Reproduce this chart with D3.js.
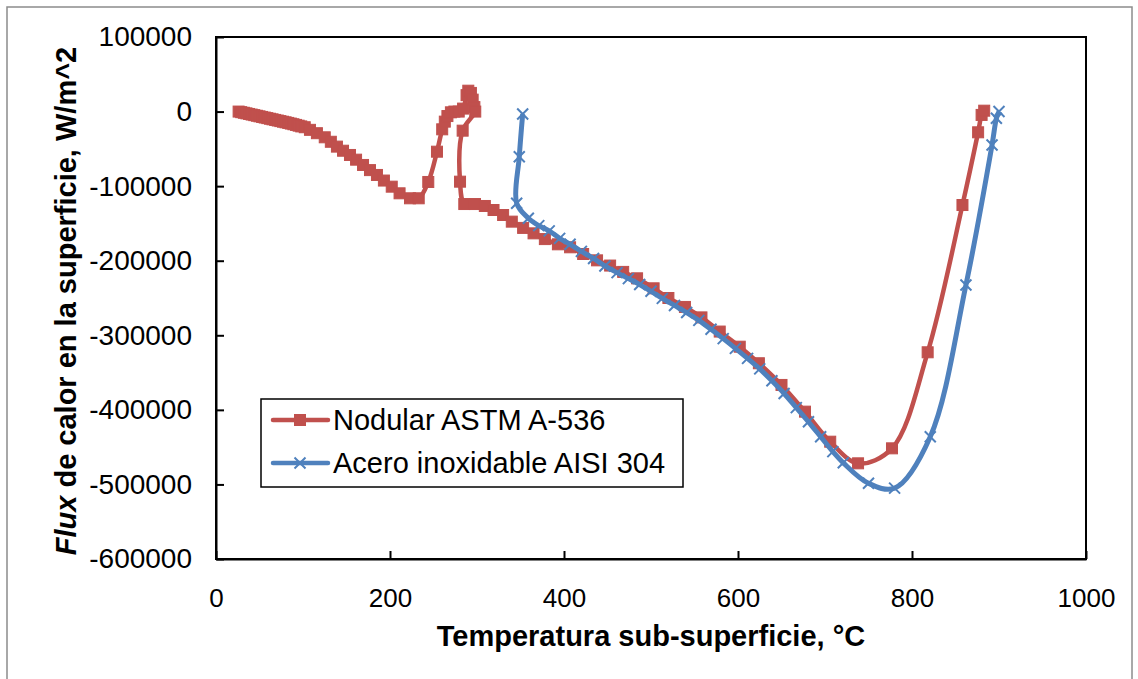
<!DOCTYPE html>
<html>
  <head>
    <title>Flux de calor</title>
    <script src="https://unpkg.com/d3@7/dist/d3.min.js"></script>
    <style>
      body { margin: 0; background: #fff; }
      text { font-family: "Liberation Sans", Arial, sans-serif; }
    </style>
  </head>
  <body>
    <svg width="1138" height="679"></svg>

    <script>
      // Nodular ASTM A-536 (temperatura, flux)
      const nodularT = [26,29,32,35,38,41,44,47,50,53,56,59,62,65,68,71,74,77,80,83,86,89,92,95,98,
        102,108,116,125,132,139,146,154,161,169,177,185,193,202,211,223,233,244,254,260,263,266,270,274,279,
        284,288,290,293,295,297,298,283.5,280.5,285.4,297.7,309,319,330,340,353,365,378,393,407,422,438,453,
        468,484,503,520,539,558,579,602,624,650,677,706,738,777,818,858,876,880,883];
      const nodularF = [0,-800,-1600,-2400,-3200,-4000,-4800,-5600,-6400,-7200,-8000,-8800,-9600,-10400,-11200,
        -12000,-12800,-13600,-14400,-15200,-16100,-17000,-17900,-18900,-19900,
        -21000,-24500,-29000,-34500,-40500,-47000,-52500,-58200,-64500,-71600,-78500,-85000,-92500,-100700,
        -109600,-116300,-116300,-94400,-53800,-23800,-13500,-6000,-1000,0,0,
        4000,22000,28000,25000,16000,6000,0,-25600,-94000,-124000,-124000,-126600,-132000,-138700,-147600,
        -156000,-163300,-171000,-178000,-182000,-191000,-199500,-206500,
        -215000,-223600,-237000,-250000,-262000,-276000,-295000,-315300,-337500,-366600,-402400,-442700,
        -471700,-451600,-322800,-125300,-27800,-4500,1200];

      // Acero inoxidable AISI 304
      const aceroT = [352.5,348.6,345.6,359,371,383,395,407,420,434,447,461,474,487,500,513,527,541,555,569,
        583,597,611,625,639,653,667,681,695,709,721,750,780,821,862,892,897,900];
      const aceroF = [-3200,-60500,-123000,-143000,-153000,-160000,-170000,-178000,-187500,-197000,-207000,
        -216000,-224000,-232000,-241000,-250500,-260000,-269500,-280000,-292000,-304500,-317500,-331000,
        -345000,-361000,-378000,-397000,-416000,-436000,-456000,-471000,-498500,-505000,-436000,-232500,
        -44800,-9000,0];

      const xTicks = [0, 200, 400, 600, 800, 1000];
      const yTicks = [100000, 0, -100000, -200000, -300000, -400000, -500000, -600000];

      const series = [
        { name: "Nodular ASTM A-536", color: "#C0504D", marker: "square",
          pts: nodularT.map((t, i) => [t, nodularF[i]]) },
        { name: "Acero inoxidable AISI 304", color: "#4F81BD", marker: "x",
          pts: aceroT.map((t, i) => [t, aceroF[i]]) }
      ];

      const svg = d3.select("svg");
      const plot = { left: 216, top: 37, right: 1086, bottom: 559 };

      // outer chart frame
      svg.append("rect")
        .attr("x", 7).attr("y", 7).attr("width", 1125).attr("height", 720)
        .attr("fill", "none").attr("stroke", "#8c8c8c").attr("stroke-width", 1.5);

      const x = d3.scaleLinear().domain([0, 1000]).range([plot.left, plot.right]);
      const y = d3.scaleLinear().domain([-600000, 100000]).range([plot.bottom, plot.top]);

      // plot box
      svg.append("rect")
        .attr("x", plot.left).attr("y", plot.top)
        .attr("width", plot.right - plot.left).attr("height", plot.bottom - plot.top)
        .attr("fill", "none").attr("stroke", "#000").attr("stroke-width", 2);

      const yAxis = svg.append("g")
        .attr("transform", `translate(${plot.left},0)`)
        .call(d3.axisLeft(y).tickValues(yTicks).tickFormat(d => String(d))
          .tickSizeInner(-8).tickSizeOuter(0).tickPadding(24));
      yAxis.select(".domain").attr("stroke-width", 2);
      yAxis.selectAll(".tick line").attr("stroke-width", 2);
      yAxis.selectAll("text").attr("font-size", 28).attr("fill", "#000")
        .attr("font-family", "Liberation Sans, Arial");

      const xAxis = svg.append("g")
        .attr("transform", `translate(0,${plot.bottom})`)
        .call(d3.axisBottom(x).tickValues(xTicks).tickFormat(d => String(d))
          .tickSizeInner(-8).tickSizeOuter(0).tickPadding(30));
      xAxis.select(".domain").attr("stroke-width", 2);
      xAxis.selectAll(".tick line").attr("stroke-width", 2);
      xAxis.selectAll("text").attr("font-size", 26).attr("fill", "#000")
        .attr("font-family", "Liberation Sans, Arial");

      // axis titles
      svg.append("text")
        .attr("x", 651).attr("y", 646)
        .attr("text-anchor", "middle")
        .attr("font-size", 29).attr("font-weight", "bold")
        .text("Temperatura sub-superficie, °C");

      const yt = svg.append("text")
        .attr("transform", "translate(76,301) rotate(-90)")
        .attr("text-anchor", "middle")
        .attr("font-size", 29).attr("font-weight", "bold");
      yt.append("tspan").attr("font-style", "italic").text("Flux");
      yt.append("tspan").text(" de calor en la superficie, W/m^2");

      // lines + markers
      const line = d3.line()
        .x(d => x(d[0])).y(d => y(d[1]))
        .curve(d3.curveCatmullRom.alpha(0.5));

      function drawMarker(g, s, px, py) {
        if (s.marker === "square") {
          g.append("rect")
            .attr("x", px - 5.5).attr("y", py - 5.5)
            .attr("width", 11).attr("height", 11)
            .attr("fill", s.color).attr("stroke", s.color);
        } else {
          g.append("path")
            .attr("d", `M${px - 5.5},${py - 5.5}L${px + 5.5},${py + 5.5}M${px - 5.5},${py + 5.5}L${px + 5.5},${py - 5.5}`)
            .attr("stroke", s.color).attr("stroke-width", 2).attr("fill", "none");
        }
      }

      series.forEach(s => {
        const g = svg.append("g");
        g.append("path")
          .datum(s.pts)
          .attr("d", line)
          .attr("fill", "none")
          .attr("stroke", s.color)
          .attr("stroke-width", s.marker === "x" ? 5 : 4.5)
          .attr("stroke-linejoin", "round");
        s.pts.forEach(p => drawMarker(g, s, x(p[0]), y(p[1])));
      });

      // legend
      const lg = svg.append("g");
      lg.append("rect")
        .attr("x", 261).attr("y", 399).attr("width", 422).attr("height", 88)
        .attr("fill", "#fff").attr("stroke", "#000").attr("stroke-width", 1.5);
      series.forEach((s, i) => {
        const ly = 420 + i * 43;
        lg.append("line")
          .attr("x1", 273).attr("x2", 328).attr("y1", ly).attr("y2", ly)
          .attr("stroke", s.color).attr("stroke-width", 4.5).attr("stroke-linecap", "round");
        drawMarker(lg, s, 300, ly);
        lg.append("text")
          .attr("x", 333).attr("y", ly + 10)
          .attr("font-size", 29)
          .text(s.name);
      });
    </script>
  </body>
</html>
